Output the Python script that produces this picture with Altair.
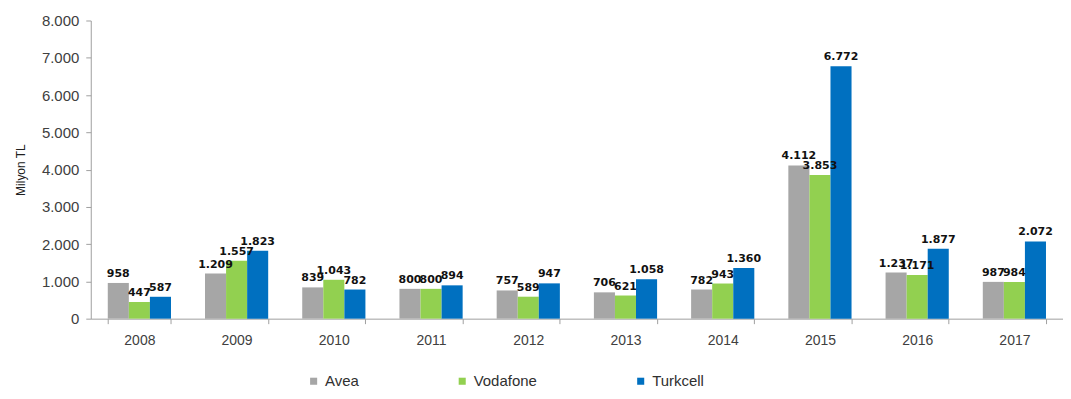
import altair as alt
import pandas as pd

years = ["2008", "2009", "2010", "2011", "2012", "2013", "2014", "2015", "2016", "2017"]
avea = [958, 1209, 839, 800, 757, 706, 782, 4112, 1237, 987]
vodafone = [447, 1557, 1043, 800, 589, 621, 943, 3853, 1171, 984]
turkcell = [587, 1823, 782, 894, 947, 1058, 1360, 6772, 1877, 2072]
series = ["Avea", "Vodafone", "Turkcell"]
colors = ["#A6A6A6", "#92D050", "#0070C0"]
y_ticks = [0, 1000, 2000, 3000, 4000, 5000, 6000, 7000, 8000]

rows = []
for i, y in enumerate(years):
    for s, vals in zip(series, [avea, vodafone, turkcell]):
        rows.append({"Yil": y, "Operator": s, "value": vals[i]})
df = pd.DataFrame(rows)

fmt = "replace(format(datum.value, ','), ',', '.')"
yscale = alt.Scale(domain=[0, 8000], nice=False)

x_axis = alt.Axis(labelAngle=0, labelFontSize=14, labelColor="#404040",
                  labelFont="Liberation Sans", labelPadding=10,
                  domainColor="#A0A0A0", tickColor="#A0A0A0",
                  tickBand="extent", tickSize=5, grid=False)
x_enc = alt.X("Yil:N", sort=years, title=None,
              scale=alt.Scale(paddingInner=0.35, paddingOuter=0.175),
              axis=x_axis)
xoff = alt.XOffset("Operator:N", sort=series)
y_axis = alt.Axis(values=y_ticks, labelExpr=fmt, labelFontSize=15,
                  labelColor="#404040", labelFont="Liberation Sans",
                  labelOverlap=False, labelFlush=False, tickCount=9,
                  labelPadding=7, tickSize=5, tickColor="#A0A0A0",
                  domainColor="#A0A0A0", grid=False,
                  titleFont="Liberation Sans", titleFontSize=12,
                  titleFontWeight="normal", titleColor="#202020",
                  titlePadding=14)

base = alt.Chart(df)

bars = base.mark_bar().encode(
    x=x_enc,
    xOffset=xoff,
    y=alt.Y("value:Q", title="Milyon TL", scale=yscale, axis=y_axis),
    color=alt.Color("Operator:N", sort=series,
                    scale=alt.Scale(domain=series, range=colors),
                    legend=alt.Legend(title=None, orient="none", direction="horizontal",
                                      legendX=216, legendY=354, symbolType="square",
                                      symbolSize=50, labelFontSize=15,
                                      labelFont="Liberation Sans", labelColor="#303030",
                                      columnPadding=96, symbolStrokeWidth=0)),
)

labels = base.mark_text(fontWeight="bold", fontSize=11, font="DejaVu Sans",
                        baseline="bottom", dy=-4, color="#111111").transform_calculate(
    lbl="replace(format(datum.value, ','), ',', '.')"
).encode(
    x=alt.X("Yil:N", sort=years, title=None, scale=alt.Scale(paddingInner=0.35, paddingOuter=0.175), axis=x_axis),
    xOffset=xoff,
    y=alt.Y("value:Q", title="Milyon TL", scale=yscale, axis=y_axis),
    text="lbl:N",
)

chart = alt.layer(bars, labels).properties(
    width=975, height=299,
    background="white",
    autosize=alt.AutoSizeParams(type="none"),
    padding={"left": 83, "top": 12, "right": 0, "bottom": 72},
).configure_view(stroke="transparent", strokeWidth=0).configure_axis(grid=False)

chart.save("out.html", embed_options={"renderer": "svg", "actions": False})
